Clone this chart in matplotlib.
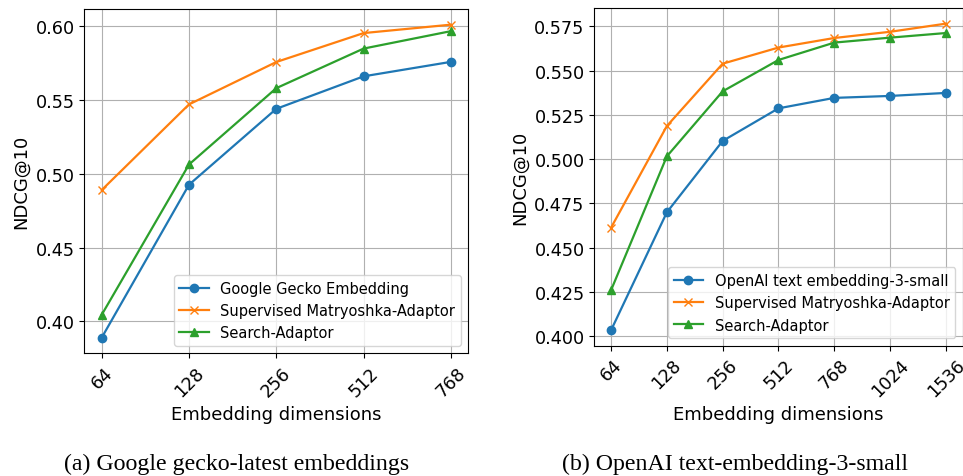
import matplotlib
matplotlib.use("Agg")
import matplotlib.pyplot as plt

# left panel: Google gecko
dims_a = ["64", "128", "256", "512", "768"]
gecko = [0.389, 0.4926, 0.544, 0.566, 0.5758]
sup_a = [0.489, 0.547, 0.5757, 0.5953, 0.601]
search_a = [0.4045, 0.5063, 0.558, 0.5848, 0.5966]

# right panel: OpenAI
dims_b = ["64", "128", "256", "512", "768", "1024", "1536"]
openai = [0.4034, 0.470, 0.5103, 0.5287, 0.5346, 0.5357, 0.5374]
sup_b = [0.4613, 0.5187, 0.5539, 0.5630, 0.5684, 0.5719, 0.5765]
search_b = [0.426, 0.5016, 0.5383, 0.556, 0.5658, 0.5686, 0.5712]

fig = plt.figure(figsize=(9.63, 4.77), dpi=100)
ax1 = fig.add_axes([0.0875, 0.2572, 0.3988, 0.7218])
ax2 = fig.add_axes([0.6171, 0.2732, 0.3826, 0.7073])


def draw(ax, dims, base, base_label, sup, search):
    x = list(range(len(dims)))
    ax.plot(x, base, marker='o', lw=1.6, ms=6, label=base_label)
    ax.plot(x, sup, marker='x', lw=1.6, ms=6, label='Supervised Matryoshka-Adaptor')
    ax.plot(x, search, marker='^', lw=1.6, ms=6, label='Search-Adaptor')
    ax.set_xticks(x)
    ax.set_xticklabels(dims, rotation=45, fontsize=12.7)
    ax.tick_params(axis='y', labelsize=12.7)
    ax.set_xlabel('Embedding dimensions', fontsize=13)
    ax.set_ylabel('NDCG@10', fontsize=13)
    ax.grid(True)
    ax.legend(loc='lower right', fontsize=10.5)


draw(ax1, dims_a, gecko, 'Google Gecko Embedding', sup_a, search_a)
draw(ax2, dims_b, openai, 'OpenAI text embedding-3-small', sup_b, search_b)
ax1.set_yticks([0.40, 0.45, 0.50, 0.55, 0.60])
ax1.set_yticklabels(['0.40', '0.45', '0.50', '0.55', '0.60'])

fig.text(0.2456, 0.027, '(a) Google gecko-latest embeddings', ha='center',
         va='center', family='Liberation Serif', fontsize=17.2)
fig.text(0.7637, 0.027, '(b) OpenAI text-embedding-3-small', ha='center',
         va='center', family='Liberation Serif', fontsize=17.2)

fig.savefig('out.png', dpi=100)
